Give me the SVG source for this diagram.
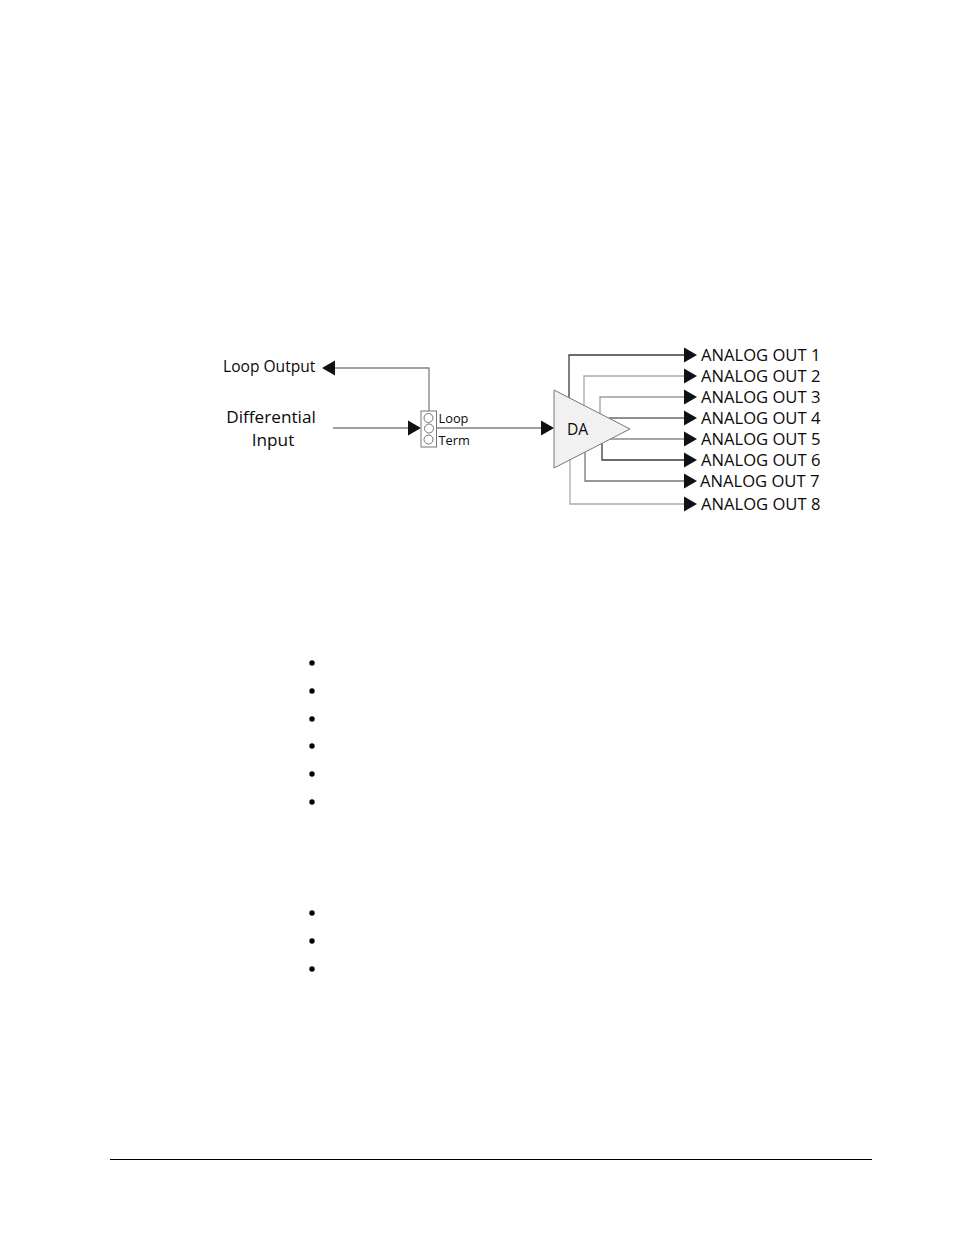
<svg xmlns="http://www.w3.org/2000/svg" width="954" height="1235" viewBox="0 0 954 1235">
<style>
.t{font-family:"Open Sans","Liberation Sans",sans-serif;fill:#0a0a0a}
.out{font-size:16.6px}
.w{fill:none;stroke-width:1.3}
.ah{fill:#111}
</style>
<defs>
<polygon id="ar" class="ah" points="0,-7.5 13,0 0,7.5"/>
<polygon id="al" class="ah" points="0,-7.5 -13,0 0,7.5"/>
</defs>
<rect width="954" height="1235" fill="#fff"/>
<g id="connectors">
<polyline class="w" stroke="#808080" points="429,411 429,368 335,368"/>
<line class="w" stroke="#808080" x1="333" y1="428" x2="408" y2="428"/>
<line class="w" stroke="#808080" x1="437" y1="428" x2="541" y2="428"/>
<polyline class="w" stroke="#3c3c3c" points="569,398 569,355 684,355"/>
<polyline class="w" stroke="#a8a8a8" points="584,405 584,376 684,376"/>
<polyline class="w" stroke="#9c9c9c" points="600,414 600,397 684,397"/>
<line class="w" stroke="#6a6a6a" x1="609" y1="418" x2="684" y2="418"/>
<line class="w" stroke="#8a8a8a" x1="610" y1="439" x2="684" y2="439"/>
<polyline class="w" stroke="#3c3c3c" points="602,443 602,460 684,460"/>
<polyline class="w" stroke="#777" points="585,452 585,481 684,481"/>
<polyline class="w" stroke="#aaa" points="570,460 570,504 684,504"/>
<use href="#al" x="335" y="368"/>
<use href="#ar" x="408" y="428"/>
<use href="#ar" x="541" y="428"/>
<use href="#ar" x="684" y="355"/>
<use href="#ar" x="684" y="376"/>
<use href="#ar" x="684" y="397"/>
<use href="#ar" x="684" y="418"/>
<use href="#ar" x="684" y="439"/>
<use href="#ar" x="684" y="460"/>
<use href="#ar" x="684" y="481"/>
<use href="#ar" x="684" y="504"/>
</g>
<g id="loop-output"><text class="t" x="223" y="372" font-size="15.6">Loop Output</text></g>
<g id="differential-input">
<text class="t" x="271" y="423" font-size="17.2" text-anchor="middle">Differential</text>
<text class="t" x="273" y="446" font-size="17.2" text-anchor="middle">Input</text>
</g>
<g id="jumper">
<rect x="421" y="411" width="15.5" height="36" fill="#fff" stroke="#777" stroke-width="1"/>
<circle cx="428.5" cy="418" r="4.5" fill="#fff" stroke="#666" stroke-width="0.9"/>
<circle cx="429" cy="428.5" r="4.5" fill="#fff" stroke="#666" stroke-width="0.9"/>
<circle cx="428.5" cy="439.5" r="4.5" fill="#fff" stroke="#666" stroke-width="0.9"/>
<text class="t" x="438.5" y="422.5" font-size="12.8">Loop</text>
<text class="t" x="438.5" y="444.5" font-size="12.8">Term</text>
</g>
<g id="da">
<polygon points="554,390 630,429 554,468" fill="#f1f1f1" stroke="#777" stroke-width="1"/>
<text class="t" x="567" y="435" font-size="15.6">DA</text>
</g>
<g id="outputs">
<text class="t out" x="701" y="361">ANALOG OUT 1</text>
<text class="t out" x="701" y="382">ANALOG OUT 2</text>
<text class="t out" x="701" y="403">ANALOG OUT 3</text>
<text class="t out" x="701" y="424">ANALOG OUT 4</text>
<text class="t out" x="701" y="445">ANALOG OUT 5</text>
<text class="t out" x="701" y="466">ANALOG OUT 6</text>
<text class="t out" x="700" y="487">ANALOG OUT 7</text>
<text class="t out" x="701" y="510">ANALOG OUT 8</text>
</g>
<g id="bullets" fill="#000">
<circle cx="312" cy="663" r="2.7"/>
<circle cx="312" cy="691" r="2.7"/>
<circle cx="312" cy="719" r="2.7"/>
<circle cx="312" cy="746" r="2.7"/>
<circle cx="312" cy="774" r="2.7"/>
<circle cx="312" cy="802" r="2.7"/>
<circle cx="312" cy="913" r="2.7"/>
<circle cx="312" cy="941" r="2.7"/>
<circle cx="312" cy="969" r="2.7"/>
</g>
<line x1="110" y1="1159.5" x2="872" y2="1159.5" stroke="#000" stroke-width="1"/>
</svg>
